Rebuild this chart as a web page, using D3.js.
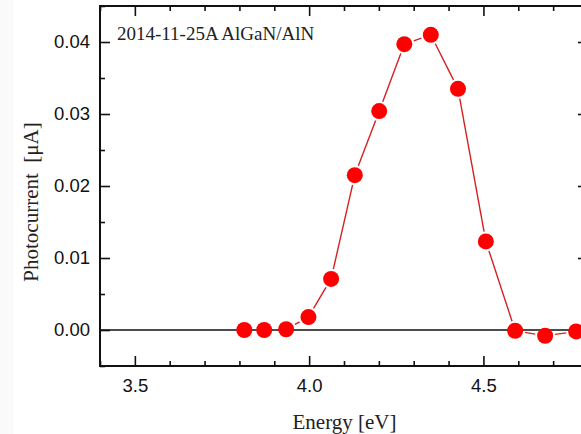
<!DOCTYPE html>
<html>
<head>
<meta charset="utf-8">
<script src="https://cdn.jsdelivr.net/npm/d3@7"></script>
<style>
  html, body { margin: 0; padding: 0; background: #fff; }
  svg { display: block; }
  text { white-space: pre; }
</style>
</head>
<body>
<svg id="chart" width="581" height="434"></svg>
<script>
// ---- data ----
const energy = [3.814, 3.871, 3.934, 3.998, 4.063, 4.131, 4.201, 4.273, 4.349, 4.427, 4.507, 4.591, 4.677, 4.766];
const photocurrent = [0.0000, 0.0000, 0.0001, 0.0018, 0.0071, 0.0215, 0.0304, 0.0397, 0.0410, 0.0335, 0.0123, -0.0001, -0.0008, -0.0002];
const xMajorTicks = [3.5, 4.0, 4.5];
const xTickLabels = ["3.5", "4.0", "4.5"];
const xMinorTicks = [3.4, 3.6, 3.7, 3.8, 3.9, 4.1, 4.2, 4.3, 4.4, 4.6, 4.7, 4.8];
const yMajorTicks = [0.00, 0.01, 0.02, 0.03, 0.04];
const yTickLabels = ["0.00", "0.01", "0.02", "0.03", "0.04"];
const yMinorTicks = [-0.005, 0.005, 0.015, 0.025, 0.035, 0.045];
const annotation = "2014-11-25A AlGaN/AlN";
const xTitle = "Energy [eV]";
const yTitle = "Photocurrent  [\u03bcA]";

// ---- layout ----
const svg = d3.select("#chart");
const L = 100, R = 588, T = 6, B = 366;
const x = d3.scaleLinear().domain([3.4, 4.8]).range([L, R]);
const y = d3.scaleLinear().domain([-0.005, 0.045]).range([B, T]);

svg.append("rect").attr("x", 0).attr("y", 0).attr("width", 13).attr("height", 434).attr("fill", "#fafafa");

const tickFont = "'Liberation Sans', Arial, sans-serif";
const serif = "'Liberation Serif', 'Times New Roman', serif";

function styleAxis(g) {
  g.select(".domain").remove();
  g.selectAll(".tick line").attr("stroke", "#111").attr("stroke-width", 1.6);
  g.selectAll(".tick text").attr("fill", "#111").attr("font-family", tickFont).attr("font-size", 18.5);
}

// bottom
svg.append("g").attr("transform", `translate(0,${B})`)
  .call(d3.axisBottom(x).tickValues(xMajorTicks).tickFormat((d, i) => xTickLabels[i]).tickSizeInner(-10).tickSizeOuter(0).tickPadding(13))
  .call(styleAxis);
svg.append("g").attr("transform", `translate(0,${B})`)
  .call(d3.axisBottom(x).tickValues(xMinorTicks).tickFormat("").tickSizeInner(-5).tickSizeOuter(0))
  .call(styleAxis);
// top
svg.append("g").attr("transform", `translate(0,${T})`)
  .call(d3.axisTop(x).tickValues(xMajorTicks).tickFormat("").tickSizeInner(-10).tickSizeOuter(0))
  .call(styleAxis);
svg.append("g").attr("transform", `translate(0,${T})`)
  .call(d3.axisTop(x).tickValues(xMinorTicks).tickFormat("").tickSizeInner(-5).tickSizeOuter(0))
  .call(styleAxis);
// left
svg.append("g").attr("transform", `translate(${L},0)`)
  .call(d3.axisLeft(y).tickValues(yMajorTicks).tickFormat((d, i) => yTickLabels[i]).tickSizeInner(-10).tickSizeOuter(0).tickPadding(10))
  .call(styleAxis);
svg.append("g").attr("transform", `translate(${L},0)`)
  .call(d3.axisLeft(y).tickValues(yMinorTicks).tickFormat("").tickSizeInner(-5).tickSizeOuter(0))
  .call(styleAxis);
// right
svg.append("g").attr("transform", `translate(${R},0)`)
  .call(d3.axisRight(y).tickValues(yMajorTicks).tickFormat("").tickSizeInner(-10).tickSizeOuter(0))
  .call(styleAxis);
svg.append("g").attr("transform", `translate(${R},0)`)
  .call(d3.axisRight(y).tickValues(yMinorTicks).tickFormat("").tickSizeInner(-5).tickSizeOuter(0))
  .call(styleAxis);

// frame
svg.append("rect").attr("x", L).attr("y", T).attr("width", R - L).attr("height", B - T)
  .attr("fill", "none").attr("stroke", "#111").attr("stroke-width", 2);

// zero line
svg.append("line").attr("x1", L).attr("x2", R).attr("y1", y(0)).attr("y2", y(0))
  .attr("stroke", "#111").attr("stroke-width", 1.6);

// data line with gaps at symbols
const pts = energy.map((e, i) => [x(e), y(photocurrent[i])]);
const gap = 10;
const segs = [];
for (let i = 0; i < pts.length - 1; i++) {
  const [x1, y1] = pts[i], [x2, y2] = pts[i + 1];
  const dx = x2 - x1, dy = y2 - y1, len = Math.hypot(dx, dy);
  if (len > 2 * gap) {
    const ux = dx / len, uy = dy / len;
    segs.push([x1 + ux * gap, y1 + uy * gap, x2 - ux * gap, y2 - uy * gap]);
  }
}
svg.append("g").selectAll("line").data(segs).join("line")
  .attr("x1", d => d[0]).attr("y1", d => d[1]).attr("x2", d => d[2]).attr("y2", d => d[3])
  .attr("stroke", "#d42020").attr("stroke-width", 1.4);

svg.append("g").selectAll("circle").data(energy).join("circle")
  .attr("cx", d => x(d)).attr("cy", (d, i) => y(photocurrent[i])).attr("r", 8)
  .attr("fill", "#ff0000");

// texts
svg.append("text").attr("x", 117).attr("y", 40).attr("font-family", serif).attr("font-size", 19)
  .attr("fill", "#222").text(annotation);
svg.append("text").attr("x", 344.5).attr("y", 429).attr("text-anchor", "middle")
  .attr("font-family", serif).attr("font-size", 21).attr("fill", "#222").text(xTitle);
svg.append("text").attr("transform", "translate(38,202) rotate(-90)").attr("text-anchor", "middle")
  .attr("font-family", serif).attr("font-size", 21).attr("fill", "#222").text(yTitle);
</script>
</body>
</html>
